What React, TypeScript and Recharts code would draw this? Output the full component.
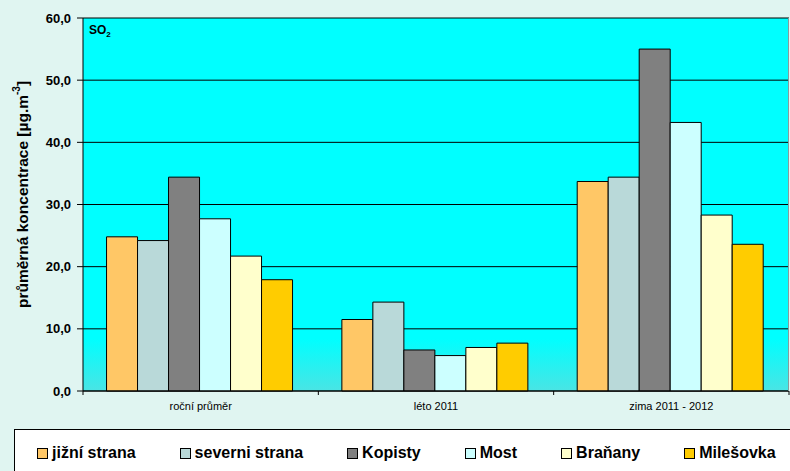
import {
  BarChart,
  Bar,
  XAxis,
  YAxis,
  CartesianGrid,
} from "recharts";

const categories = ["roční průměr", "léto 2011", "zima 2011 - 2012"];

const jizniStrana = [24.8, 11.5, 33.7];
const severniStrana = [24.2, 14.3, 34.4];
const kopisty = [34.4, 6.6, 55.0];
const most = [27.7, 5.7, 43.2];
const branany = [21.7, 7.0, 28.3];
const milesovka = [17.9, 7.7, 23.6];

const yTicks = [0, 10, 20, 30, 40, 50, 60];

const series = [
  { key: "jizni", name: "jižní strana", color: "#FFC766", values: jizniStrana },
  { key: "severni", name: "severni strana", color: "#B9D9D9", values: severniStrana },
  { key: "kopisty", name: "Kopisty", color: "#808080", values: kopisty },
  { key: "most", name: "Most", color: "#CCFFFF", values: most },
  { key: "branany", name: "Braňany", color: "#FFFFCC", values: branany },
  { key: "milesovka", name: "Milešovka", color: "#FFCC00", values: milesovka },
];

const data = categories.map((name, i) => {
  const row: Record<string, string | number> = { name };
  series.forEach((s) => {
    row[s.key] = s.values[i];
  });
  return row;
});

const FONT = "Arial, 'Liberation Sans', sans-serif";

const fmt = (v: number) => v.toFixed(1).replace(".", ",");

// category label in the middle of each band, tick marks on the band edges;
// the last band also closes the plot frame on the right
const CategoryTick = (props: any) => {
  const { x, y, payload, index } = props;
  const half = payload.offset ?? 0;
  const last = index === categories.length - 1;
  return (
    <g>
      <line x1={x - half} x2={x - half} y1={y} y2={y + 4} stroke="#000" />
      {last && <line x1={x + half} x2={x + half} y1={y} y2={y + 4} stroke="#000" />}
      {last && <rect x={x + half - 1} y={18} width={1} height={y - 18} fill="#8A9A9A" />}
      <text x={x} y={y + 19} textAnchor="middle" fontSize={11} fontFamily={FONT} fill="#000">
        {payload.value}
      </text>
    </g>
  );
};

const YTitle = (props: any) => {
  const vb = props.viewBox;
  const cy = vb.y + vb.height / 2 - 10;
  return (
    <text
      x={22}
      y={cy}
      transform={`rotate(-90, 22, ${cy})`}
      textAnchor="middle"
      dominantBaseline="central"
      fontSize={15.5}
      fontWeight="bold"
      fontFamily={FONT}
      fill="#000"
    >
      průměrná koncentrace [µg.m
      <tspan dy={-6} fontSize={10}>-3</tspan>
      <tspan dy={6}>]</tspan>
    </text>
  );
};

const App = () => {
  return (
    <div
      style={{
        position: "absolute",
        left: 0,
        top: 0,
        width: 790,
        height: 471,
        overflow: "hidden",
        background: "#E0F5F1",
        fontFamily: FONT,
      }}
    >
      <BarChart
        width={790}
        height={471}
        data={data}
        margin={{ top: 18, right: 1, left: 0, bottom: 50 }}
        barCategoryGap="10%"
        barGap={0}
      >
        <defs>
          <linearGradient id="plotBg" x1="0" y1="0" x2="0" y2="1">
            <stop offset="0.86" stopColor="#00FFFF" />
            <stop offset="1" stopColor="#4AE4E4" />
          </linearGradient>
        </defs>
        <CartesianGrid
          vertical={false}
          stroke="#000"
          fill="url(#plotBg)"
          fillOpacity={1}
        />
        <XAxis
          dataKey="name"
          height={30}
          axisLine={{ stroke: "#000" }}
          tickLine={false}
          tickSize={0}
          tickMargin={0}
          interval={0}
          tick={<CategoryTick />}
        />
        <YAxis
          width={83}
          domain={[0, 60]}
          ticks={yTicks}
          tickFormatter={fmt}
          axisLine={{ stroke: "#000" }}
          tickLine={{ stroke: "#000" }}
          tickSize={6}
          tickMargin={6}
          tick={{ fill: "#000", fontSize: 13, fontWeight: "bold", fontFamily: FONT }}
          label={{ content: <YTitle /> }}
        />
        {series.map((s) => (
          <Bar
            key={s.key}
            dataKey={s.key}
            name={s.name}
            fill={s.color}
            stroke="#000"
            strokeWidth={1}
            isAnimationActive={false}
          />
        ))}
      </BarChart>

      <div
        style={{
          position: "absolute",
          left: 89,
          top: 23,
          fontSize: 12,
          fontWeight: "bold",
          lineHeight: "14px",
          color: "#000",
        }}
      >
        SO<sub style={{ fontSize: 8, verticalAlign: "-3px", lineHeight: 0 }}>2</sub>
      </div>

      {/* legend box runs off the right and bottom edges, so only top and left borders show */}
      <div
        style={{
          position: "absolute",
          left: 14,
          top: 429,
          width: 776,
          height: 42,
          boxSizing: "border-box",
          background: "#FFFFFF",
          borderTop: "1px solid #000",
          borderLeft: "1px solid #000",
          display: "flex",
          alignItems: "center",
          paddingLeft: 22,
          paddingTop: 5,
          gap: 44,
          overflow: "hidden",
        }}
      >
        {series.map((s) => (
          <div key={s.key} style={{ display: "flex", alignItems: "center", gap: 4, flexShrink: 0 }}>
            <span
              style={{
                display: "inline-block",
                width: 11,
                height: 11,
                boxSizing: "border-box",
                border: "1px solid #000",
                background: s.color,
              }}
            />
            <span style={{ fontSize: 16, fontWeight: "bold", color: "#000", whiteSpace: "nowrap" }}>
              {s.name}
            </span>
          </div>
        ))}
      </div>
    </div>
  );
};

export default App;
